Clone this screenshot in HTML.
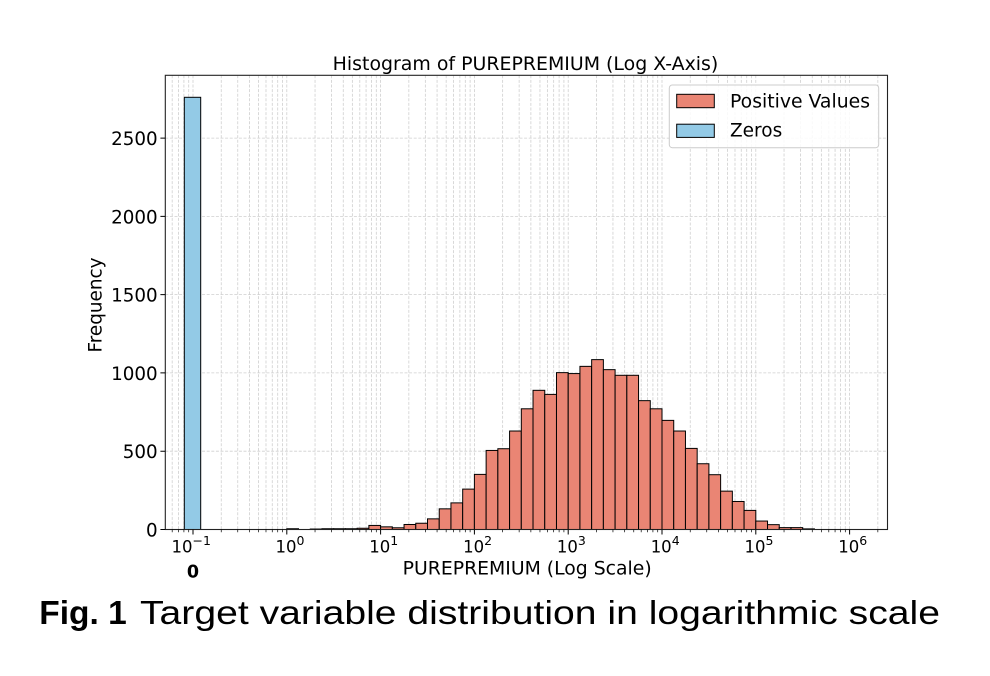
<!DOCTYPE html>
<html>
<head>
<meta charset="utf-8">
<style>
  html,body{margin:0;padding:0;background:#fff;}
  svg{display:block;}
  .dv{font-family:"DejaVu Sans","Liberation Sans",sans-serif;fill:#000;}
  .cap{font-family:"Liberation Sans",sans-serif;fill:#000;}
</style>
</head>
<body>
<svg width="990" height="676" viewBox="0 0 990 676" xmlns="http://www.w3.org/2000/svg">
  <rect x="0" y="0" width="990" height="676" fill="#fff"/>

  <path stroke="#cfcfcf" stroke-width="0.8" stroke-dasharray="3,1.6" fill="none" d="
    M172.19 75.3V529.5 M178.47 75.3V529.5 M183.91 75.3V529.5 M188.71 75.3V529.5
    M193.0 75.3V529.5 M221.24 75.3V529.5 M237.75 75.3V529.5 M249.47 75.3V529.5 M258.56 75.3V529.5 M265.99 75.3V529.5 M272.27 75.3V529.5 M277.71 75.3V529.5 M282.51 75.3V529.5
    M286.8 75.3V529.5 M315.04 75.3V529.5 M331.55 75.3V529.5 M343.27 75.3V529.5 M352.36 75.3V529.5 M359.79 75.3V529.5 M366.07 75.3V529.5 M371.51 75.3V529.5 M376.31 75.3V529.5
    M380.6 75.3V529.5 M408.84 75.3V529.5 M425.35 75.3V529.5 M437.07 75.3V529.5 M446.16 75.3V529.5 M453.59 75.3V529.5 M459.87 75.3V529.5 M465.31 75.3V529.5 M470.11 75.3V529.5
    M474.4 75.3V529.5 M502.64 75.3V529.5 M519.15 75.3V529.5 M530.87 75.3V529.5 M539.96 75.3V529.5 M547.39 75.3V529.5 M553.67 75.3V529.5 M559.11 75.3V529.5 M563.91 75.3V529.5
    M568.2 75.3V529.5 M596.44 75.3V529.5 M612.95 75.3V529.5 M624.67 75.3V529.5 M633.76 75.3V529.5 M641.19 75.3V529.5 M647.47 75.3V529.5 M652.91 75.3V529.5 M657.71 75.3V529.5
    M662.0 75.3V529.5 M690.24 75.3V529.5 M706.75 75.3V529.5 M718.47 75.3V529.5 M727.56 75.3V529.5 M734.99 75.3V529.5 M741.27 75.3V529.5 M746.71 75.3V529.5 M751.51 75.3V529.5
    M755.8 75.3V529.5 M784.04 75.3V529.5 M800.55 75.3V529.5 M812.27 75.3V529.5 M821.36 75.3V529.5 M828.79 75.3V529.5 M835.07 75.3V529.5 M840.51 75.3V529.5 M845.31 75.3V529.5
    M849.6 75.3V529.5 M877.84 75.3V529.5"/>
  <path stroke="#cfcfcf" stroke-width="0.8" stroke-dasharray="3,1.6" fill="none" d="
    M165.3 451.2H887.5 M165.3 372.9H887.5 M165.3 294.6H887.5 M165.3 216.4H887.5 M165.3 138.1H887.5"/>

  <rect x="184.3" y="97.3" width="16.4" height="432.2" fill="#93cae6" stroke="#000" stroke-width="1"/>

  <g fill="#ea8574" stroke="#000" stroke-width="1">
    <rect x="286.80" y="528.72" width="11.725" height="0.78"/>
    <rect x="310.25" y="529.03" width="11.725" height="0.47"/>
    <rect x="321.98" y="528.72" width="11.725" height="0.78"/>
    <rect x="333.70" y="528.72" width="11.725" height="0.78"/>
    <rect x="345.43" y="528.72" width="11.725" height="0.78"/>
    <rect x="357.15" y="528.25" width="11.725" height="1.25"/>
    <rect x="368.88" y="525.43" width="11.725" height="4.07"/>
    <rect x="380.60" y="526.84" width="11.725" height="2.66"/>
    <rect x="392.33" y="527.78" width="11.725" height="1.72"/>
    <rect x="404.05" y="524.49" width="11.725" height="5.01"/>
    <rect x="415.78" y="523.24" width="11.725" height="6.26"/>
    <rect x="427.50" y="518.85" width="11.725" height="10.65"/>
    <rect x="439.23" y="508.83" width="11.725" height="20.67"/>
    <rect x="450.95" y="502.88" width="11.725" height="26.62"/>
    <rect x="462.68" y="489.11" width="11.725" height="40.39"/>
    <rect x="474.40" y="474.39" width="11.725" height="55.11"/>
    <rect x="486.13" y="450.44" width="11.725" height="79.06"/>
    <rect x="497.85" y="448.72" width="11.725" height="80.78"/>
    <rect x="509.58" y="431.02" width="11.725" height="98.48"/>
    <rect x="521.30" y="408.79" width="11.725" height="120.71"/>
    <rect x="533.03" y="390.32" width="11.725" height="139.18"/>
    <rect x="544.75" y="394.39" width="11.725" height="135.11"/>
    <rect x="556.48" y="372.63" width="11.725" height="156.87"/>
    <rect x="568.20" y="373.57" width="11.725" height="155.93"/>
    <rect x="579.93" y="366.36" width="11.725" height="163.14"/>
    <rect x="591.65" y="359.63" width="11.725" height="169.87"/>
    <rect x="603.38" y="369.65" width="11.725" height="159.85"/>
    <rect x="615.10" y="375.29" width="11.725" height="154.21"/>
    <rect x="626.83" y="375.29" width="11.725" height="154.21"/>
    <rect x="638.55" y="400.65" width="11.725" height="128.85"/>
    <rect x="650.28" y="408.79" width="11.725" height="120.71"/>
    <rect x="662.00" y="420.38" width="11.725" height="109.12"/>
    <rect x="673.73" y="431.02" width="11.725" height="98.48"/>
    <rect x="685.45" y="448.40" width="11.725" height="81.10"/>
    <rect x="697.18" y="463.74" width="11.725" height="65.76"/>
    <rect x="708.90" y="474.70" width="11.725" height="54.80"/>
    <rect x="720.63" y="491.14" width="11.725" height="38.36"/>
    <rect x="732.35" y="501.48" width="11.725" height="28.02"/>
    <rect x="744.08" y="510.40" width="11.725" height="19.10"/>
    <rect x="755.80" y="521.05" width="11.725" height="8.45"/>
    <rect x="767.53" y="524.65" width="11.725" height="4.85"/>
    <rect x="779.25" y="527.62" width="11.725" height="1.88"/>
    <rect x="790.98" y="527.62" width="11.725" height="1.88"/>
    <rect x="802.70" y="528.87" width="11.725" height="0.63"/>
  </g>

  <rect x="165.3" y="75.3" width="722.2" height="454.2" fill="none" stroke="#222" stroke-width="1.1"/>

  <path stroke="#000" stroke-width="1" fill="none" d="
    M193.0 529.5v5 M286.8 529.5v5 M380.6 529.5v5 M474.4 529.5v5 M568.2 529.5v5 M662.0 529.5v5 M755.8 529.5v5 M849.6 529.5v5"/>
  <path stroke="#000" stroke-width="0.7" fill="none" d="
    M172.19 529.5v2.8 M178.47 529.5v2.8 M183.91 529.5v2.8 M188.71 529.5v2.8
    M221.24 529.5v2.8 M237.75 529.5v2.8 M249.47 529.5v2.8 M258.56 529.5v2.8 M265.99 529.5v2.8 M272.27 529.5v2.8 M277.71 529.5v2.8 M282.51 529.5v2.8
    M315.04 529.5v2.8 M331.55 529.5v2.8 M343.27 529.5v2.8 M352.36 529.5v2.8 M359.79 529.5v2.8 M366.07 529.5v2.8 M371.51 529.5v2.8 M376.31 529.5v2.8
    M408.84 529.5v2.8 M425.35 529.5v2.8 M437.07 529.5v2.8 M446.16 529.5v2.8 M453.59 529.5v2.8 M459.87 529.5v2.8 M465.31 529.5v2.8 M470.11 529.5v2.8
    M502.64 529.5v2.8 M519.15 529.5v2.8 M530.87 529.5v2.8 M539.96 529.5v2.8 M547.39 529.5v2.8 M553.67 529.5v2.8 M559.11 529.5v2.8 M563.91 529.5v2.8
    M596.44 529.5v2.8 M612.95 529.5v2.8 M624.67 529.5v2.8 M633.76 529.5v2.8 M641.19 529.5v2.8 M647.47 529.5v2.8 M652.91 529.5v2.8 M657.71 529.5v2.8
    M690.24 529.5v2.8 M706.75 529.5v2.8 M718.47 529.5v2.8 M727.56 529.5v2.8 M734.99 529.5v2.8 M741.27 529.5v2.8 M746.71 529.5v2.8 M751.51 529.5v2.8
    M784.04 529.5v2.8 M800.55 529.5v2.8 M812.27 529.5v2.8 M821.36 529.5v2.8 M828.79 529.5v2.8 M835.07 529.5v2.8 M840.51 529.5v2.8 M845.31 529.5v2.8
    M877.84 529.5v2.8"/>
  <path stroke="#000" stroke-width="1" fill="none" d="
    M160.4 529.5h4.9 M160.4 451.2h4.9 M160.4 372.9h4.9 M160.4 294.6h4.9 M160.4 216.4h4.9 M160.4 138.1h4.9"/>

  <g class="dv" font-size="18.3" text-anchor="end">
    <text x="157.6" y="536.4">0</text>
    <text x="157.6" y="458.1">500</text>
    <text x="157.6" y="379.8">1000</text>
    <text x="157.6" y="301.5">1500</text>
    <text x="157.6" y="223.3">2000</text>
    <text x="157.6" y="145.0">2500</text>
  </g>

  <g class="dv" font-size="16.5">
    <text x="171.5" y="552.5">10<tspan font-size="12.5" dy="-7.5">−1</tspan></text>
    <text x="275.5" y="552.5">10<tspan font-size="12.5" dy="-7.5">0</tspan></text>
    <text x="369.3" y="552.5">10<tspan font-size="12.5" dy="-7.5">1</tspan></text>
    <text x="463.1" y="552.5">10<tspan font-size="12.5" dy="-7.5">2</tspan></text>
    <text x="556.9" y="552.5">10<tspan font-size="12.5" dy="-7.5">3</tspan></text>
    <text x="650.7" y="552.5">10<tspan font-size="12.5" dy="-7.5">4</tspan></text>
    <text x="744.5" y="552.5">10<tspan font-size="12.5" dy="-7.5">5</tspan></text>
    <text x="838.3" y="552.5">10<tspan font-size="12.5" dy="-7.5">6</tspan></text>
  </g>
  <text class="dv" x="193" y="577.7" font-size="17.5" font-weight="bold" text-anchor="middle">0</text>

  <text class="dv" x="402.7" y="574.7" font-size="18.3" textLength="249" lengthAdjust="spacingAndGlyphs">PUREPREMIUM (Log Scale)</text>
  <text class="dv" x="332.7" y="70" font-size="18.3" textLength="385.6" lengthAdjust="spacingAndGlyphs">Histogram of PUREPREMIUM (Log X-Axis)</text>
  <text class="dv" font-size="18.4" text-anchor="middle" transform="translate(101.5,305) rotate(-90)">Frequency</text>

  <rect x="669.3" y="85" width="209.4" height="62.7" rx="3" ry="3" fill="#fff" fill-opacity="0.85" stroke="#cccccc" stroke-width="1"/>
  <rect x="676.7" y="94.3" width="37.6" height="13.4" fill="#ea8574" stroke="#000" stroke-width="1"/>
  <rect x="676.7" y="124.2" width="37.6" height="13.2" fill="#93cae6" stroke="#000" stroke-width="1"/>
  <text class="dv" x="730" y="107.3" font-size="18.5" textLength="140" lengthAdjust="spacingAndGlyphs">Positive Values</text>
  <text class="dv" x="730" y="136.7" font-size="18.5">Zeros</text>

  <text class="cap" x="39.3" y="624" font-size="33" font-weight="bold" textLength="87.4" lengthAdjust="spacingAndGlyphs">Fig. 1</text>
  <text class="cap" x="140" y="624" font-size="33" textLength="800" lengthAdjust="spacingAndGlyphs">Target variable distribution in logarithmic scale</text>
</svg>
</body>
</html>
